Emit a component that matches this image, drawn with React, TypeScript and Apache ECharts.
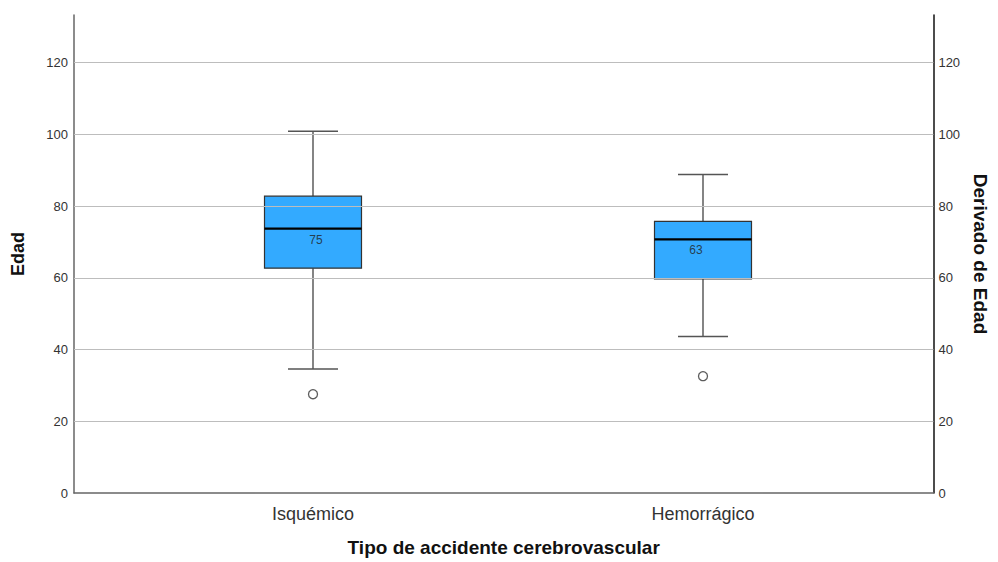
import React, { useEffect, useRef } from "react";
import * as echarts from "echarts";

const categories = ["Isquémico", "Hemorrágico"];
// [min whisker, Q1, median, Q3, max whisker]
const boxValues = [
  [35, 63, 74, 83, 101],
  [44, 60, 71, 76, 89],
];
const outliers = [
  [0, 28],
  [1, 33],
];
const medianLabels = ["75", "63"];
const yTicks = [0, 20, 40, 60, 80, 100, 120];

export default function App() {
  const ref = useRef<HTMLDivElement>(null);
  useEffect(() => {
    if (!ref.current) return;
    document.body.style.margin = "0";
    document.documentElement.style.overflow = "hidden";
    document.body.style.overflow = "hidden";
    const chart = echarts.init(ref.current, undefined, { renderer: "svg" });
    const font = "'Liberation Sans', Arial, sans-serif";
    const yCommon = {
      type: "value" as const,
      min: 0,
      max: 133.3,
      interval: 20,
    };
    const option: any = {
      animation: false,
      backgroundColor: "#fff",
      textStyle: { fontFamily: font },
      grid: [
        { left: 74, right: 56, top: 15, bottom: 67 },
        { left: 118, right: 100, top: 15, bottom: 67 },
      ],
      xAxis: [
        {
          gridIndex: 0,
          type: "value",
          min: 0,
          max: 1,
          position: "bottom",
          axisLine: { show: true, onZero: false, lineStyle: { color: "#666", width: 1.5 } },
          axisTick: { show: false },
          axisLabel: { show: false },
          splitLine: { show: false },
          name: "Tipo de accidente cerebrovascular",
          nameLocation: "middle",
          nameGap: 45,
          nameTextStyle: { fontSize: 19, fontWeight: "bold", color: "#111", fontFamily: font },
        },
        {
          gridIndex: 1,
          type: "category",
          data: categories,
          axisLine: { show: false },
          axisTick: { show: false },
          axisLabel: { show: true, fontSize: 18, color: "#333", margin: 10, fontFamily: font },
          splitLine: { show: false },
        },
      ],
      yAxis: [
        {
          ...yCommon,
          gridIndex: 0,
          position: "left",
          axisLine: { show: true, lineStyle: { color: "#666", width: 1.5 } },
          axisTick: { show: false },
          axisLabel: {
            fontSize: 13,
            color: "#333",
            margin: 6,
            fontFamily: font,
            formatter: (v: number) => (yTicks.includes(v) ? String(v) : ""),
          },
          splitLine: { show: false },
          name: "Edad",
          nameLocation: "middle",
          nameGap: 47,
          nameRotate: 90,
          nameTextStyle: { fontSize: 18, fontWeight: "bold", color: "#111", fontFamily: font },
        },
        {
          ...yCommon,
          gridIndex: 0,
          position: "right",
          axisLine: { show: true, onZero: false, lineStyle: { color: "#111", width: 1.5 } },
          axisTick: { show: false },
          axisLabel: {
            fontSize: 13,
            color: "#333",
            margin: 5,
            fontFamily: font,
            formatter: (v: number) => (yTicks.includes(v) ? String(v) : ""),
          },
          splitLine: { show: false },
          name: "Derivado de Edad",
          nameLocation: "middle",
          nameGap: 36,
          nameRotate: -90,
          nameTextStyle: { fontSize: 19, fontWeight: "bold", color: "#111", fontFamily: font },
        },
        {
          ...yCommon,
          gridIndex: 1,
          show: false,
        },
      ],
      series: [
        {
          type: "line",
          xAxisIndex: 0,
          yAxisIndex: 0,
          data: [],
          silent: true,
          markLine: {
            silent: true,
            symbol: "none",
            label: { show: false },
            lineStyle: { color: "#bdbdbd", width: 1, type: "solid" },
            data: yTicks.filter((v) => v > 0).map((v) => ({ yAxis: v })),
          },
          z: 1,
        },
        {
          type: "custom",
          xAxisIndex: 1,
          yAxisIndex: 2,
          data: boxValues.map((b, i) => [i, ...b]),
          renderItem: (params: any, api: any) => {
            const x = api.value(0);
            const pMin = api.coord([x, api.value(1)]);
            const pQ1 = api.coord([x, api.value(2)]);
            const pMed = api.coord([x, api.value(3)]);
            const pQ3 = api.coord([x, api.value(4)]);
            const pMax = api.coord([x, api.value(5)]);
            const cx = pMin[0];
            const hb = 48.5;
            const hc = 25;
            const ls = { stroke: "#333", lineWidth: 1.2 };
            return {
              type: "group",
              children: [
                { type: "line", shape: { x1: cx, y1: pQ3[1], x2: cx, y2: pMax[1] }, style: ls },
                { type: "line", shape: { x1: cx, y1: pQ1[1], x2: cx, y2: pMin[1] }, style: ls },
                { type: "line", shape: { x1: cx - hc, y1: pMax[1], x2: cx + hc, y2: pMax[1] }, style: { stroke: "#555", lineWidth: 1.5 } },
                { type: "line", shape: { x1: cx - hc, y1: pMin[1], x2: cx + hc, y2: pMin[1] }, style: { stroke: "#555", lineWidth: 1.5 } },
                {
                  type: "rect",
                  shape: { x: cx - hb, y: pQ3[1], width: hb * 2, height: pQ1[1] - pQ3[1] },
                  style: { fill: "#33aaff", stroke: "#333", lineWidth: 1.2 },
                },
                { type: "line", shape: { x1: cx - hb, y1: pMed[1], x2: cx + hb, y2: pMed[1] }, style: { stroke: "#000", lineWidth: 2.2 } },
              ],
            };
          },
          z: 2,
        },
        {
          type: "scatter",
          xAxisIndex: 1,
          yAxisIndex: 2,
          data: outliers,
          symbol: "circle",
          symbolSize: 9,
          itemStyle: { color: "#fff", borderColor: "#333", borderWidth: 1.3 },
          z: 3,
        },
        {
          type: "scatter",
          xAxisIndex: 1,
          yAxisIndex: 2,
          symbolSize: 0,
          data: boxValues.map((b, i) => ({
            value: [i, b[2]],
            label: { offset: i === 0 ? [3, 0] : [-7, 0] },
          })),
          label: {
            show: true,
            position: "bottom",
            distance: 5,
            fontSize: 12,
            color: "#222",
            fontFamily: font,
            formatter: (p: any) => medianLabels[p.dataIndex],
          },
          silent: true,
          z: 4,
        },
      ],
    };
    chart.setOption(option);
    return () => chart.dispose();
  }, []);
  return (
    <div
      ref={ref}
      style={{ position: "relative", width: 998, height: 562, overflow: "hidden" }}
    />
  );
}
